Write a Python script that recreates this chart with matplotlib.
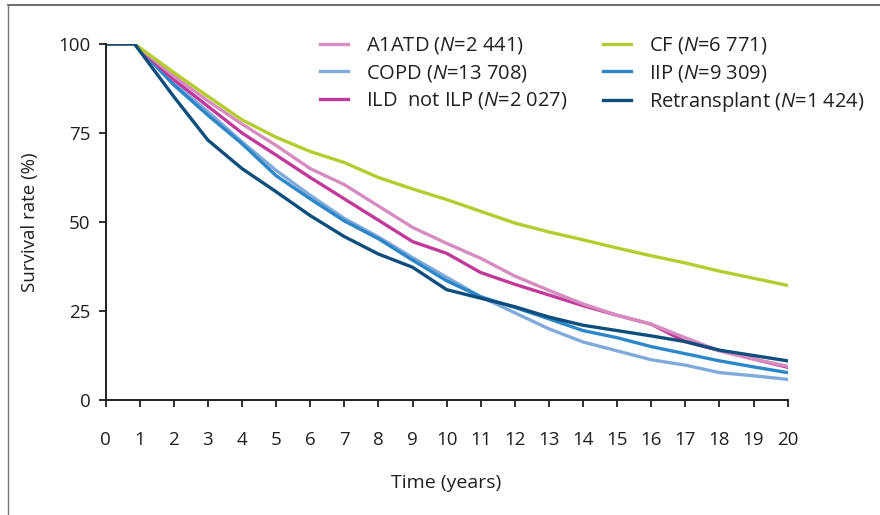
import numpy as np
import matplotlib
matplotlib.use('Agg')
import matplotlib.pyplot as plt
from matplotlib.lines import Line2D

plt.rcParams['font.family'] = ['Open Sans', 'DejaVu Sans']
plt.rcParams['mathtext.fontset'] = 'custom'
plt.rcParams['mathtext.it'] = 'Open Sans:italic'
plt.rcParams['mathtext.rm'] = 'Open Sans'

# years since transplant (first drop starts just before year 1)
years = [0, 0.85, 2, 3, 4, 5, 6, 7, 8, 9, 10, 11, 12, 13, 14, 15, 16, 17, 18, 19, 20]

a1atd = [100, 100, 91, 84, 77.5, 71.5, 65, 60.5, 54.5, 48.5, 44, 39.8, 34.8, 30.8, 27, 23.8, 21.3, 17.5, 13.8, 11.5, 9.5]
copd = [100, 100, 89, 81, 72.5, 64.5, 57.5, 51, 45.8, 40, 34.5, 29, 24.5, 20, 16.3, 13.8, 11.3, 9.8, 7.7, 6.8, 5.8]
ild = [100, 100, 90, 82.5, 75, 68.8, 62.5, 56.5, 50.5, 44.5, 41.2, 35.8, 32.5, 29.5, 26.5, 23.8, 21.3, 16.4, 13.9, 11.5, 9.2]
cf = [100, 100, 92, 85.3, 78.7, 73.8, 69.8, 66.7, 62.5, 59.3, 56.3, 53, 49.7, 47.2, 45, 42.7, 40.5, 38.5, 36.2, 34.2, 32.2]
iip = [100, 100, 88.5, 80, 72, 63, 56.5, 50.3, 45.3, 39.3, 33.5, 29, 26, 22.8, 19.5, 17.5, 15, 13, 11, 9.3, 7.7]
retx = [100, 100, 85.2, 73, 65, 58.5, 51.8, 45.9, 41, 37.3, 31, 28.6, 26.2, 23.3, 21, 19.5, 18, 16.4, 14, 12.5, 11]

labels = ['A1ATD ($\\it{N}$=2 441)', 'COPD ($\\it{N}$=13 708)', 'ILD  not ILP ($\\it{N}$=2 027)',
          'CF ($\\it{N}$=6 771)', 'IIP ($\\it{N}$=9 309)', 'Retransplant ($\\it{N}$=1 424)']
series = [a1atd, copd, ild, cf, iip, retx]
colors = ['#d68cc0', '#80aadc', '#c1399a', '#b5cc2e', '#2d86c8', '#0e4d7c']
zorders = [5, 3, 4, 6, 3.5, 7]

fig = plt.figure(figsize=(8.8, 5.15), dpi=100)
ax = fig.add_axes([0.12, 0.2233, 0.775, 0.6913])

for y, lab, c, z in zip(series, labels, colors, zorders):
    ax.plot(years, y, color=c, lw=2.4, label=lab, zorder=z, solid_joinstyle='round')

ax.set_xlim(0, 20)
ax.set_ylim(0, 100)
ax.set_xticks(range(0, 21))
ax.set_yticks([0, 25, 50, 75, 100])
for s in ['top', 'right']:
    ax.spines[s].set_visible(False)
for s in ['left', 'bottom']:
    ax.spines[s].set_linewidth(1.4)
    ax.spines[s].set_color('#231f20')
    ax.spines[s].set_zorder(8)
ax.tick_params(axis='x', direction='out', length=5, width=1.3, pad=17, labelsize=13.5, colors='#231f20')
ax.tick_params(axis='y', direction='out', length=5, width=1.3, pad=6, labelsize=13.5, colors='#231f20')
ax.set_xlabel('Time (years)', fontsize=14, color='#231f20', labelpad=18)
ax.set_ylabel('Survival rate (%)', fontsize=13.5, color='#231f20', labelpad=14)

leg = ax.legend(ncol=2, loc='upper right', bbox_to_anchor=(1.14, 1.075), frameon=False,
                fontsize=14.5, handlelength=1.4, handletextpad=0.9, labelspacing=0.32,
                columnspacing=1.75)
for t in leg.get_texts():
    t.set_color('#231f20')

# partial grey frame round the figure (top and left edges only)
fig.add_artist(Line2D([8 / 880, 1], [1 - 5 / 515, 1 - 5 / 515], color='#555555', lw=1.2))
fig.add_artist(Line2D([8 / 880, 8 / 880], [0, 1 - 5 / 515], color='#777777', lw=1.0))

fig.savefig('out.png', dpi=100)
